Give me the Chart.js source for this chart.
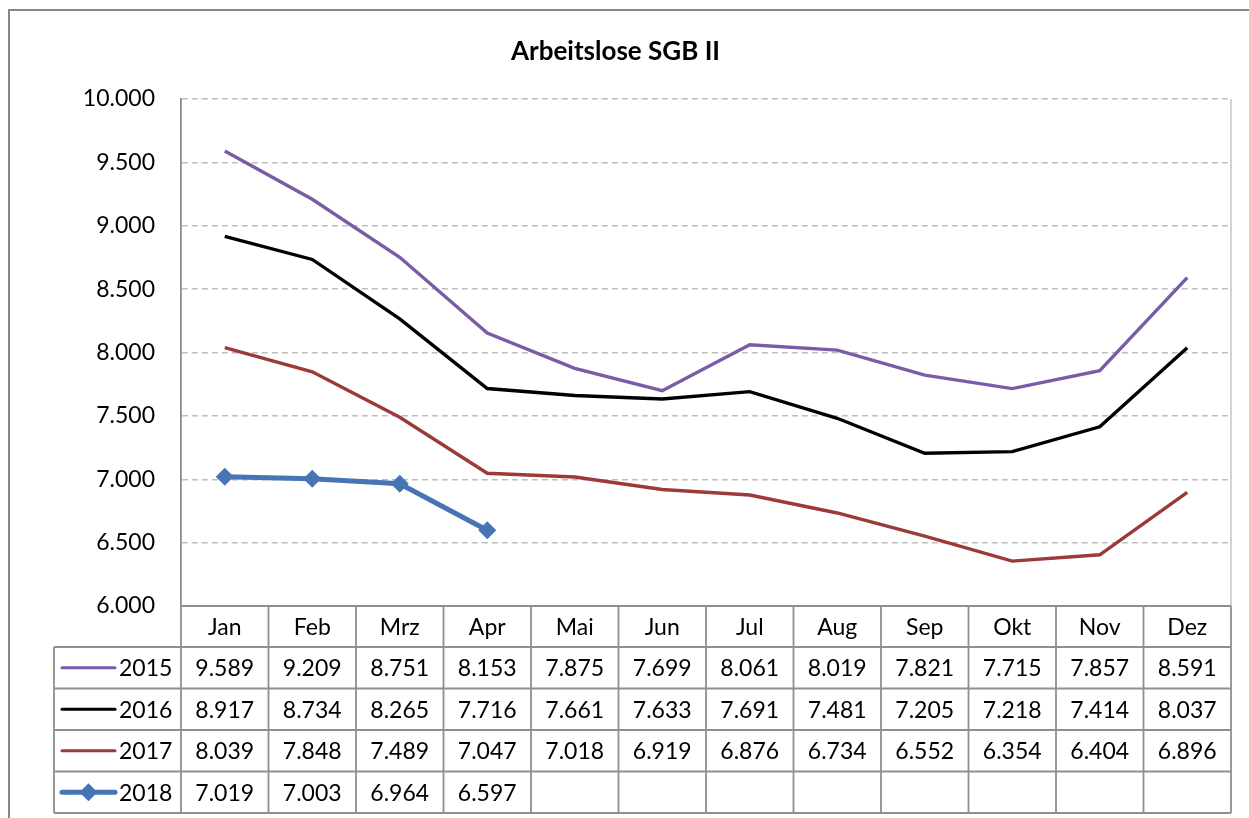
<!DOCTYPE html>
<html>
<head>
<meta charset="utf-8">
<title>Arbeitslose SGB II</title>
<script src="https://cdn.jsdelivr.net/npm/chart.js@4.4.1/dist/chart.umd.min.js"></script>
<style>
  html, body { margin: 0; padding: 0; background: #fff; }
  #wrap { width: 1249px; height: 818px; position: relative; }
</style>
</head>
<body>
<div id="wrap"><canvas id="chart" width="1249" height="818"></canvas></div>
<script>
const months = ['Jan', 'Feb', 'Mrz', 'Apr', 'Mai', 'Jun', 'Jul', 'Aug', 'Sep', 'Okt', 'Nov', 'Dez'];
const years = ['2015', '2016', '2017', '2018'];
const values2015 = [9589, 9209, 8751, 8153, 7875, 7699, 8061, 8019, 7821, 7715, 7857, 8591];
const values2016 = [8917, 8734, 8265, 7716, 7661, 7633, 7691, 7481, 7205, 7218, 7414, 8037];
const values2017 = [8039, 7848, 7489, 7047, 7018, 6919, 6876, 6734, 6552, 6354, 6404, 6896];
const values2018 = [7019, 7003, 6964, 6597, null, null, null, null, null, null, null, null];
const yTicks = [6000, 6500, 7000, 7500, 8000, 8500, 9000, 9500, 10000];

const colors = ['#7A5CA6', '#000000', '#9B3A38', '#4674B4'];
const FONT = 'Lato, "Liberation Sans", sans-serif';

function fmt(n) {
    return String(n).replace(/\B(?=(\d{3})+(?!\d))/g, '.');
}

const seriesList = [values2015, values2016, values2017, values2018];

// draws frame, plot borders and the data table under the chart
const tablePlugin = {
    id: 'dataTable',
    beforeDraw(chart) {
        const ctx = chart.ctx;
        ctx.save();
        ctx.fillStyle = '#fff';
        ctx.fillRect(0, 0, chart.width, chart.height);
        ctx.strokeStyle = '#878787';
        ctx.lineWidth = 2;
        ctx.strokeRect(9, 10, chart.width + 20, chart.height + 20);
        ctx.restore();
    },
    beforeDatasetsDraw(chart) {
        const { ctx, chartArea } = chart;
        ctx.save();
        ctx.strokeStyle = '#c4c4c4';
        ctx.lineWidth = 1.5;
        ctx.beginPath();
        ctx.moveTo(chartArea.right, chartArea.top);
        ctx.lineTo(chartArea.right, chartArea.bottom);
        ctx.stroke();
        ctx.restore();
    },
    afterDraw(chart) {
        const { ctx, chartArea } = chart;
        const x = chart.scales.x;
        const colW = (chartArea.right - chartArea.left) / months.length;
        const top = chartArea.bottom;
        const headH = 41;
        const rowH = 41.5;
        const legendLeft = 54;
        const bottom = top + headH + rowH * years.length;

        ctx.save();
        ctx.strokeStyle = '#8f8f8f';
        ctx.lineWidth = 1.8;
        ctx.beginPath();
        ctx.moveTo(chartArea.left, top);
        ctx.lineTo(chartArea.right, top);
        for (let r = 0; r <= years.length; r++) {
            const y = top + headH + r * rowH;
            ctx.moveTo(legendLeft, y);
            ctx.lineTo(chartArea.right, y);
        }
        for (let c = 0; c <= months.length; c++) {
            const xx = chartArea.left + c * colW;
            ctx.moveTo(xx, top);
            ctx.lineTo(xx, bottom);
        }
        ctx.moveTo(legendLeft, top + headH);
        ctx.lineTo(legendLeft, bottom);
        ctx.stroke();

        ctx.fillStyle = '#000';
        ctx.font = '23px ' + FONT;
        ctx.textAlign = 'center';
        ctx.textBaseline = 'middle';
        months.forEach((m, i) => {
            ctx.fillText(m, x.getPixelForValue(i), top + headH / 2 + 1);
        });

        seriesList.forEach((vals, r) => {
            const cy = top + headH + r * rowH + rowH / 2 + 1;
            vals.forEach((v, i) => {
                if (v === null) return;
                ctx.fillText(fmt(v), x.getPixelForValue(i), cy);
            });
            // legend key
            const ky = cy - 1;
            ctx.strokeStyle = colors[r];
            ctx.lineWidth = r === 3 ? 5 : 3;
            ctx.lineCap = 'round';
            ctx.beginPath();
            ctx.moveTo(62, ky);
            ctx.lineTo(115, ky);
            ctx.stroke();
            if (r === 3) {
                ctx.fillStyle = colors[r];
                ctx.beginPath();
                ctx.moveTo(88.5, ky - 9);
                ctx.lineTo(97.5, ky);
                ctx.lineTo(88.5, ky + 9);
                ctx.lineTo(79.5, ky);
                ctx.closePath();
                ctx.fill();
                ctx.fillStyle = '#000';
            }
            ctx.textAlign = 'left';
            ctx.fillText(years[r], 119, cy);
            ctx.textAlign = 'center';
        });
        ctx.restore();
    }
};

const datasets = seriesList.map((vals, i) => ({
    label: years[i],
    data: vals,
    borderColor: colors[i],
    backgroundColor: colors[i],
    borderWidth: i === 3 ? 5 : 3.4,
    pointRadius: i === 3 ? 9 : 0,
    pointHoverRadius: i === 3 ? 9 : 0,
    pointStyle: 'rectRot',
    pointBorderWidth: 0,
    tension: 0,
    spanGaps: false,
    order: 4 - i
}));

new Chart(document.getElementById('chart'), {
    type: 'line',
    data: { labels: months, datasets: datasets },
    options: {
        responsive: false,
        animation: false,
        events: [],
        layout: { padding: { left: 0, right: 18, top: 0, bottom: 212 } },
        plugins: {
            legend: { display: false },
            tooltip: { enabled: false },
            title: {
                display: true,
                text: 'Arbeitslose SGB II',
                color: '#000',
                font: { family: FONT, size: 26, weight: 'bold', lineHeight: 1.2 },
                padding: { top: 36, bottom: 31.8 }
            }
        },
        scales: {
            x: {
                display: false,
                offset: true
            },
            y: {
                min: yTicks[0],
                max: yTicks[yTicks.length - 1],
                afterBuildTicks(scale) {
                    scale.ticks = yTicks.map(v => ({ value: v }));
                },
                afterFit(scale) {
                    scale.width = 181;
                },
                grid: {
                    drawTicks: false,
                    color: ctx => ctx.tick && ctx.tick.value === yTicks[0] ? 'rgba(0,0,0,0)' : '#bdbdbd',
                    lineWidth: 1.5
                },
                border: { display: true, color: '#8c8c8c', width: 1.8, dash: [6, 4] },
                ticks: {
                    color: '#000',
                    padding: 26,
                    font: { family: FONT, size: 23 },
                    callback: v => fmt(v)
                }
            }
        }
    },
    plugins: [tablePlugin]
});
</script>
</body>
</html>
